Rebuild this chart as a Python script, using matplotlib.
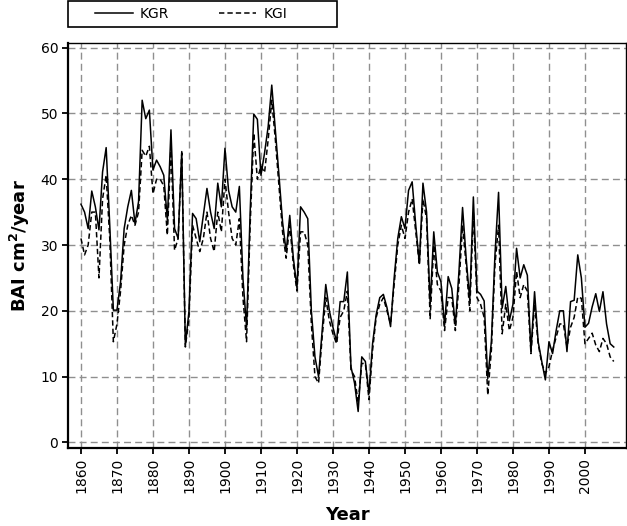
import numpy as np
import matplotlib
matplotlib.use("Agg")
import matplotlib.pyplot as plt
from matplotlib.patches import Rectangle

# ── Data: basal area increment per year ──────────────────────────────────
years = list(range(1860, 2009))

kgr = [36.2, 35.0, 32.5, 38.2, 35.8, 32.3, 41.1, 44.8, 33.0, 20.1,
       20.1, 24.4, 32.5, 35.8, 38.3, 33.3, 36.6, 52.0, 49.2, 50.5,
       41.4, 42.9, 41.9, 40.6, 33.8, 47.5, 32.5, 31.0, 44.2, 14.8,
       19.9, 34.8, 34.0, 30.5, 34.5, 38.6, 35.0, 32.5, 39.4, 35.8,
       44.7, 38.3, 35.8, 35.0, 38.9, 24.9, 17.5, 35.0, 49.9, 49.1,
       40.6, 44.0, 48.0, 54.3, 47.5, 40.6, 33.5, 29.0, 34.5, 28.0,
       23.5, 35.8, 35.0, 34.0, 20.0, 13.0, 10.0, 17.0, 24.0, 20.0,
       17.5, 15.3, 21.4, 21.4, 25.9, 11.5, 9.0, 4.7, 13.0, 12.3,
       7.4, 15.0, 19.4, 22.0, 22.5, 20.5, 17.6, 25.0, 31.0, 34.3,
       32.5, 38.3, 39.6, 33.0, 27.2, 39.4, 35.0, 21.0, 32.0, 25.9,
       24.4, 17.8, 25.2, 23.4, 17.8, 26.0, 35.7, 28.0, 21.6, 37.3,
       23.0, 22.5, 21.5, 9.7, 15.3, 28.5, 38.0, 20.4, 23.7, 18.5,
       21.0, 29.5, 25.0, 27.0, 25.4, 13.8, 22.9, 15.3, 12.3, 9.5,
       15.3, 13.5, 17.0, 20.0, 20.0, 13.8, 21.4, 21.6, 28.5, 25.0,
       17.5, 18.1, 20.6, 22.6, 19.9, 22.9, 18.0, 15.0, 14.5]

kgi = [31.0, 28.5, 30.0, 35.0, 35.0, 25.0, 37.0, 40.6, 31.0, 15.3,
       18.0, 23.0, 30.0, 33.0, 34.5, 33.0, 35.0, 44.4, 43.5, 45.0,
       37.8, 40.0, 40.0, 39.0, 31.5, 45.0, 29.2, 31.0, 44.0, 14.5,
       19.0, 33.0, 31.0, 29.0, 31.0, 35.0, 31.0, 29.0, 35.0, 32.0,
       40.0, 35.0, 31.0, 30.0, 34.0, 22.0, 15.3, 33.0, 47.0, 40.0,
       42.0, 41.0, 46.0, 52.0, 46.0, 39.0, 32.0, 28.0, 33.0, 27.0,
       23.0, 32.0, 32.0, 30.0, 18.0, 10.0, 9.0, 16.0, 22.0, 18.5,
       16.5, 15.0, 19.0, 20.0, 23.0, 11.0, 10.0, 6.0, 12.0, 12.0,
       6.5, 14.0, 19.0, 21.0, 22.0, 20.0, 18.0, 24.0, 30.0, 33.0,
       31.0, 35.0, 37.0, 32.0, 27.0, 37.0, 34.0, 18.8, 30.0, 24.0,
       23.0, 17.0, 22.0, 22.0, 17.0, 24.0, 33.0, 27.0, 20.0, 35.0,
       22.0, 21.0, 19.0, 7.2, 14.0, 27.0, 33.0, 16.5, 21.0, 17.0,
       19.0, 26.0, 22.0, 24.0, 23.0, 13.5, 21.0, 15.0, 12.0, 10.5,
       11.5, 14.0, 16.0, 18.0, 18.0, 14.5, 17.5, 19.0, 22.1, 21.9,
       15.0, 15.8, 16.6, 14.8, 13.8, 15.8, 15.0, 13.0, 12.3]

x_ticks = list(range(1860, 2001, 10))
y_ticks = list(range(0, 61, 10))

# ── Figure ───────────────────────────────────────────────────────────────
W, H = 627, 526
fig = plt.figure(figsize=(W / 100, H / 100), dpi=100)
ax = fig.add_axes([68 / W, 78 / H, 558 / W, 405 / H])

grid_kw = dict(color="#8f8f8f", linewidth=1.0, dashes=(5, 3), zorder=1)
for xt in x_ticks:
    ax.axvline(xt, **grid_kw)
for yt in y_ticks:
    ax.axhline(yt, **grid_kw)

l1, = ax.plot(years, kgr, color="black", linewidth=1.1, label="KGR", zorder=3)
l2, = ax.plot(years, kgi, color="black", linewidth=1.1, dashes=(3.5, 2),
              label="KGI", zorder=3)

ax.set_xlim(1856.4, 2011.4)
ax.set_ylim(-0.85, 60.7)
ax.set_xticks(x_ticks)
ax.set_xticklabels([str(v) for v in x_ticks], rotation=90, fontsize=10)
ax.set_yticks(y_ticks)
ax.set_yticklabels([str(v) for v in y_ticks], fontsize=10)
ax.tick_params(direction="out", length=4, width=1.3, pad=3)

for side in ["left", "bottom"]:
    ax.spines[side].set_linewidth(1.6)
for side in ["top", "right"]:
    ax.spines[side].set_linewidth(1.0)

ax.set_xlabel("Year", fontsize=13, fontweight="bold", labelpad=9)
ax.set_ylabel(r"BAI cm$^{\mathbf{2}}$/year", fontsize=13,
              fontweight="bold", labelpad=6)

# legend box above the plot
fig.patches.append(Rectangle((68 / W, 1 - 26.5 / H), 269 / W, 25.5 / H,
                             transform=fig.transFigure, fill=False,
                             edgecolor="black", linewidth=1.2))
fig.legend(handles=[l1, l2], loc="center left",
           bbox_to_anchor=(95 / W, 1 - 13.5 / H), ncol=2, frameon=False,
           fontsize=10, handlelength=2.7, handletextpad=0.5,
           columnspacing=3.6, borderpad=0, borderaxespad=0)

fig.savefig("out.png", dpi=100)
